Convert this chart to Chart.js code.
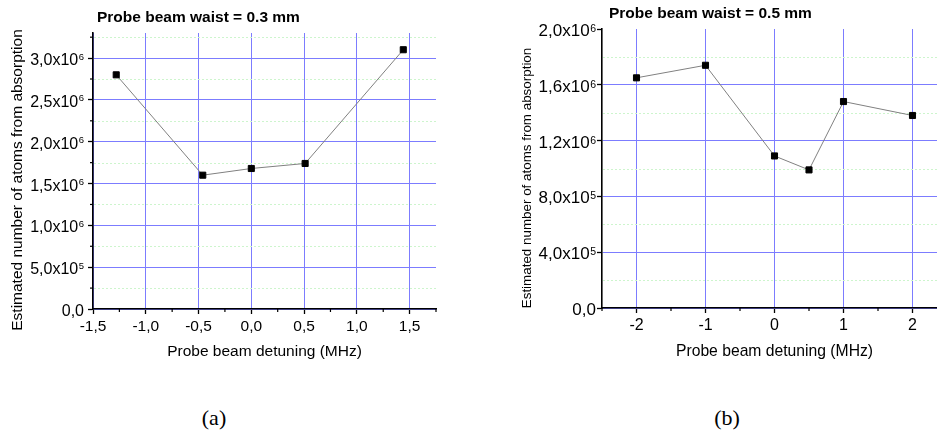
<!DOCTYPE html>
<html><head><meta charset="utf-8">
<script src="https://cdn.jsdelivr.net/npm/chart.js@4/dist/chart.umd.min.js"></script>
<style>
html,body{margin:0;padding:0;width:937px;height:434px;overflow:hidden;background:#fff;}
#wa{position:absolute;left:0;top:0;width:470px;height:372px;}
#wb{position:absolute;left:480px;top:0;width:480px;height:372px;}
.cap{position:absolute;top:406px;line-height:24px;font-size:22px;font-family:"Liberation Serif","DejaVu Serif",serif;transform:translateX(-50%);color:#000;}
</style></head>
<body>
<div id="wa"><canvas id="ca" width="470" height="372"></canvas></div>
<div id="wb"><canvas id="cb" width="480" height="372"></canvas></div>
<div class="cap" style="left:214px">(a)</div>
<div class="cap" style="left:727px">(b)</div>
<script>
// ---------- data (a) ----------
const titleA = 'Probe beam waist = 0.3 mm';
const xValsA = [-1.28, -0.46, 0.0, 0.51, 1.44];
const yValsA = [2.80e6, 1.60e6, 1.68e6, 1.74e6, 3.10e6];
const xRangeA = [-1.5, 1.75];
const yRangeA = [0, 3.3e6];
const xTicksA = [-1.5, -1.0, -0.5, 0, 0.5, 1.0, 1.5];
const xTickLabelsA = ['-1,5', '-1,0', '-0,5', '0,0', '0,5', '1,0', '1,5'];
const xMinorA = [-1.25, -0.75, -0.25, 0.25, 0.75, 1.25, 1.75];
const yTicksA = [0, 0.5e6, 1.0e6, 1.5e6, 2.0e6, 2.5e6, 3.0e6];
const yTickBaseA = ['0,0', '5,0x10', '1,0x10', '1,5x10', '2,0x10', '2,5x10', '3,0x10'];
const yTickSupA = ['', '5', '6', '6', '6', '6', '6'];
const yMinorA = [0.25e6, 0.75e6, 1.25e6, 1.75e6, 2.25e6, 2.75e6, 3.25e6];

// ---------- data (b) ----------
const titleB = 'Probe beam waist = 0.5 mm';
const xValsB = [-2, -1, 0, 0.5, 1, 2];
const yValsB = [1.65e6, 1.74e6, 1.09e6, 0.99e6, 1.48e6, 1.38e6];
const xRangeB = [-2.5, 2.5];
const yRangeB = [0, 2.0e6];
const xTicksB = [-2, -1, 0, 1, 2];
const xTickLabelsB = ['-2', '-1', '0', '1', '2'];
const xMinorB = [-2.5, -1.5, -0.5, 0.5, 1.5, 2.5];
const yTicksB = [0, 0.4e6, 0.8e6, 1.2e6, 1.6e6, 2.0e6];
const yTickBaseB = ['0,0', '4,0x10', '8,0x10', '1,2x10', '1,6x10', '2,0x10'];
const yTickSupB = ['', '5', '5', '6', '6', '6'];
const yMinorB = [0.2e6, 0.6e6, 1.0e6, 1.4e6, 1.8e6];

const xTitle = 'Probe beam detuning (MHz)';
const yTitle = 'Estimated number of atoms from absorption';

// ---------- styling ----------
const FAM = '"Liberation Sans", Arial, Helvetica, sans-serif';
Chart.defaults.font.family = FAM;
Chart.defaults.color = '#000';
const BLUE = '#7c7cff';
const GREEN = '#cdf5cd';

const originStyle = {
  id: 'originStyle',
  beforeDatasetsDraw(chart, args, o) {
    const ctx = chart.ctx, ca = chart.chartArea, ys = chart.scales.y;
    ctx.save();
    ctx.strokeStyle = GREEN; ctx.lineWidth = 1; ctx.setLineDash([2, 2]);
    o.yMinor.forEach(v => {
      const p = Math.round(ys.getPixelForValue(v)) + 0.5;
      ctx.beginPath(); ctx.moveTo(ca.left + 1, p); ctx.lineTo(ca.right, p); ctx.stroke();
    });
    ctx.restore();
  },
  afterDraw(chart, args, o) {
    const ctx = chart.ctx, ca = chart.chartArea, xs = chart.scales.x, ys = chart.scales.y;
    ctx.save();
    ctx.strokeStyle = '#000'; ctx.lineWidth = 1.2;
    o.xMinor.forEach(v => {
      const p = xs.getPixelForValue(v);
      ctx.beginPath(); ctx.moveTo(p, ca.bottom); ctx.lineTo(p, ca.bottom + 3); ctx.stroke();
    });
    (o.yMinorTicks || []).forEach(v => {
      const p = ys.getPixelForValue(v);
      ctx.beginPath(); ctx.moveTo(ca.left, p); ctx.lineTo(ca.left - 3, p); ctx.stroke();
    });
    // y tick labels with superscript exponents
    ctx.fillStyle = '#000';
    ctx.textAlign = 'left'; ctx.textBaseline = 'alphabetic';
    ys.ticks.forEach((t, i) => {
      const py = ys.getPixelForValue(t.value);
      const base = o.yBase[i], sup = o.ySup[i];
      const right = ca.left - o.yGap;
      ctx.font = o.supSize + 'px ' + FAM;
      const sw = sup ? ctx.measureText(sup).width + 0.5 : 0;
      if (sup) ctx.fillText(sup, right - sw + 0.5, py + o.supDy);
      ctx.font = o.ySize + 'px ' + FAM;
      const bw = ctx.measureText(base).width;
      ctx.fillText(base, right - sw - bw, py + o.baseDy);
    });
    // y axis title
    ctx.save();
    ctx.translate(o.yTitleX, o.yTitleY); ctx.rotate(-Math.PI / 2);
    ctx.font = o.yTitleSize + 'px ' + FAM; ctx.textAlign = 'center'; ctx.textBaseline = 'middle';
    ctx.fillText(o.yTitle, 0, 0);
    ctx.restore();
    // chart title
    ctx.font = 'bold ' + o.titleSize + 'px ' + FAM; ctx.textAlign = 'left'; ctx.textBaseline = 'alphabetic';
    ctx.fillText(o.title, o.titleX, o.titleY);
    ctx.restore();
  }
};

function makeChart(id, d, g) {
  return new Chart(document.getElementById(id), {
    type: 'scatter',
    data: {
      datasets: [{
        data: d.xs.map((x, i) => ({ x: x, y: d.ys[i] })),
        showLine: true,
        borderColor: '#808080', borderWidth: 1,
        pointStyle: 'rect', pointRadius: 4.3, pointHoverRadius: 4.3,
        pointBackgroundColor: '#000', pointBorderColor: '#000', pointBorderWidth: 1
      }]
    },
    plugins: [originStyle],
    options: {
      responsive: false, animation: false, devicePixelRatio: 1,
      layout: { padding: { left: 0, right: g.padRight, top: g.top, bottom: 0 } },
      plugins: {
        legend: { display: false }, tooltip: { enabled: false }, title: { display: false },
        originStyle: {
          yMinor: d.yMinor, xMinor: d.xMinor, yMinorTicks: d.yMinorTicks,
          yBase: d.yBase, ySup: d.ySup,
          yGap: g.yGap, ySize: g.ySize, supSize: g.supSize, baseDy: g.baseDy, supDy: g.supDy,
          yTitle: yTitle, yTitleX: g.yTitleX, yTitleY: g.yTitleY, yTitleSize: g.yTitleSize,
          title: d.title, titleX: g.titleX, titleY: g.titleY, titleSize: 15.5
        }
      },
      scales: {
        x: {
          type: 'linear', min: d.xRange[0], max: d.xRange[1],
          afterBuildTicks: s => { s.ticks = d.xTicks.map(v => ({ value: v })); },
          afterFit: s => { s.height = g.xHeight; },
          ticks: { autoSkip: false, maxRotation: 0, padding: 3, font: { size: g.xSize },
                   callback: (v, i) => d.xLabels[i] },
          grid: { color: BLUE, lineWidth: 1, tickColor: '#000', tickLength: 5, tickWidth: 1.3 },
          border: { color: '#000', width: 1.6 },
          title: { display: true, text: xTitle, font: { size: g.xTitleSize }, padding: { top: 0, bottom: g.xTitlePad } }
        },
        y: {
          type: 'linear', min: d.yRange[0], max: d.yRange[1],
          afterBuildTicks: s => { s.ticks = d.yTicks.map(v => ({ value: v })); },
          afterFit: s => { s.width = g.yWidth; },
          ticks: { display: false },
          grid: {
            color: c => (c.tick && c.tick.value >= d.yRange[1] - 1) ? 'rgba(0,0,0,0)' : BLUE,
            lineWidth: 1, tickColor: '#000', tickLength: 5, tickWidth: 1.3
          },
          border: { color: '#000', width: 1.6 },
          title: { display: false }
        }
      }
    }
  });
}

makeChart('ca',
  { title: titleA, xs: xValsA, ys: yValsA, xRange: xRangeA, yRange: yRangeA,
    xTicks: xTicksA, xLabels: xTickLabelsA, xMinor: xMinorA,
    yTicks: yTicksA, yBase: yTickBaseA, ySup: yTickSupA, yMinor: yMinorA, yMinorTicks: yMinorA },
  { top: 33, padRight: 34, xHeight: 63, yWidth: 93, yGap: 9, ySize: 16, supSize: 9.5,
    baseDy: 7, supDy: 1.5, xSize: 15.5, xTitleSize: 15.5, xTitlePad: 11,
    yTitleX: 18, yTitleY: 180, yTitleSize: 15.5, titleX: 97, titleY: 21.5 });

makeChart('cb',
  { title: titleB, xs: xValsB, ys: yValsB, xRange: xRangeB, yRange: yRangeB,
    xTicks: xTicksB, xLabels: xTickLabelsB, xMinor: xMinorB,
    yTicks: yTicksB, yBase: yTickBaseB, ySup: yTickSupB, yMinor: yMinorB, yMinorTicks: [] },
  { top: 29, padRight: 13, xHeight: 64, yWidth: 122, yGap: 6, ySize: 17, supSize: 10.5,
    baseDy: 7, supDy: 3, xSize: 16, xTitleSize: 15.7, xTitlePad: 11,
    yTitleX: 47, yTitleY: 178, yTitleSize: 13.4, titleX: 129, titleY: 17.5 });
</script>
</body></html>
